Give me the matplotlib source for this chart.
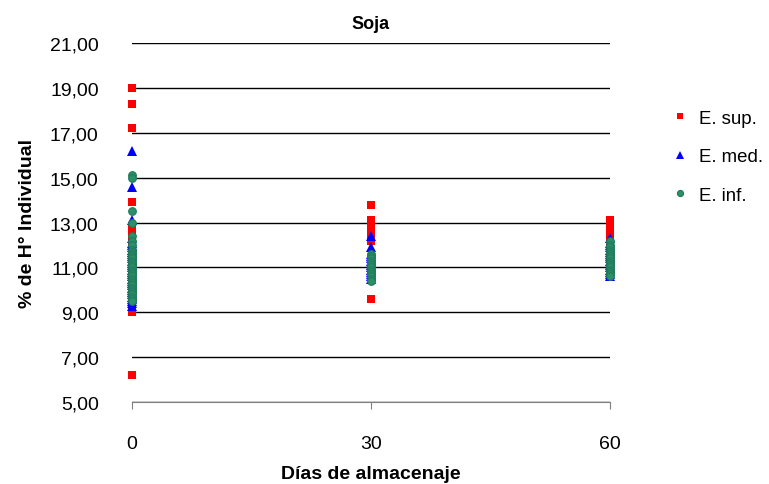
"""Soja - humedad individual"""
import numpy as np
import matplotlib.pyplot as plt

plt.rcParams['font.family'] = ['Liberation Sans', 'DejaVu Sans']

dias = [0, 30, 60]

# E. sup. (valores por día)
sup_0 = [19.0, 18.3, 17.2, 13.9, 12.7, 12.4, 12.2, 12.0, 11.9, 11.8, 11.7, 11.6, 11.5,
         11.4, 11.3, 11.2, 11.1, 11.0, 10.9, 10.8, 10.7, 10.6, 10.5, 10.4, 10.3, 10.2,
         10.1, 10.0, 9.9, 9.8, 9.7, 9.5, 9.3, 9.0, 6.2]
sup_30 = [13.8, 13.1, 13.0, 12.9, 12.8, 12.7, 12.6, 12.5, 12.4, 12.3, 12.2, 9.6]
sup_60 = [13.1, 13.0, 12.9, 12.8, 12.7, 12.6, 12.5, 12.4, 12.3, 12.2, 12.1, 12.0, 11.9]

# E. med.
med_0 = [16.2, 14.6, 13.1, 12.3, 12.1, 12.0, 11.9, 11.8, 11.7, 11.6, 11.5, 11.4, 11.3,
         11.2, 11.1, 11.0, 10.9, 10.8, 10.7, 10.6, 10.5, 10.4, 10.3, 10.2, 10.1, 10.0,
         9.9, 9.8, 9.7, 9.6, 9.5, 9.4, 9.3]
med_30 = [12.4, 11.9, 11.6, 11.5, 11.4, 11.3, 11.2, 11.1, 11.0, 10.9, 10.8, 10.7, 10.6, 10.5]
med_60 = [12.3, 12.1, 12.0, 11.9, 11.8, 11.7, 11.6, 11.5, 11.4, 11.3, 11.2, 11.1, 11.0,
          10.9, 10.8, 10.7, 10.6]

# E. inf.
inf_0 = [15.1, 15.0, 13.5, 13.0, 12.4, 12.2, 12.0, 11.8, 11.7, 11.6, 11.5, 11.4, 11.3,
         11.2, 11.1, 11.0, 10.9, 10.8, 10.7, 10.6, 10.5, 10.4, 10.3, 10.2, 10.1, 10.0,
         9.9, 9.8, 9.7, 9.6, 9.5]
inf_30 = [11.6, 11.5, 11.4, 11.3, 11.2, 11.1, 11.0, 10.9, 10.8, 10.7, 10.6, 10.5, 10.4]
inf_60 = [12.2, 12.0, 11.9, 11.8, 11.7, 11.6, 11.5, 11.4, 11.3, 11.2, 11.1, 11.0, 10.9,
          10.8, 10.7, 10.6]

y_ticks = [5, 7, 9, 11, 13, 15, 17, 19, 21]
y_labels = ['5,00', '7,00', '9,00', '11,00', '13,00', '15,00', '17,00', '19,00', '21,00']


def expand(series):
    xs, ys = [], []
    for d, vals in zip(dias, series):
        xs += [d] * len(vals)
        ys += vals
    return xs, ys


fig = plt.figure(figsize=(7.69, 4.85), dpi=100)
ax = fig.add_axes([0.1717, 0.169, 0.6215, 0.74])

x, y = expand([sup_0, sup_30, sup_60])
ax.plot(x, y, 's', color='#FF0000', ms=6, mew=0, label='E. sup.', clip_on=False, zorder=3)
x, y = expand([med_0, med_30, med_60])
ax.plot(x, y, '^', color='#0000FF', ms=7, mew=0, label='E. med.', clip_on=False, zorder=4)
x, y = expand([inf_0, inf_30, inf_60])
ax.plot(x, y, 'o', color='#2A9068', mec='#1F7A5A', ms=5.5, mew=0.8, label='E. inf.',
        clip_on=False, zorder=5)

ax.set_xlim(0, 60)
ax.set_ylim(5, 21)
ax.set_xticks(dias)
ax.set_xticklabels(['0', '30', '60'], fontsize=14)
ax.set_yticks(y_ticks)
ax.set_yticklabels(y_labels, fontsize=14)
ax.tick_params(axis='y', length=0, pad=24)
ax.tick_params(axis='x', length=5, direction='out', color='#808080', pad=19)
ax.yaxis.grid(True, color='black', lw=1)
ax.set_axisbelow(True)
for s in ['left', 'right', 'top']:
    ax.spines[s].set_visible(False)
ax.spines['bottom'].set_color('#808080')

ax.set_title('Soja', fontsize=13, fontweight='bold', pad=11)
ax.set_xlabel('Días de almacenaje', fontsize=14, fontweight='bold', labelpad=9)
ax.set_ylabel('% de H° Individual', fontsize=14, fontweight='bold', labelpad=10)

fig.legend(loc='upper left', bbox_to_anchor=(0.853, 0.806), frameon=False, fontsize=13.4,
           handletextpad=0.6, labelspacing=1.15, handlelength=0.8, markerscale=0.8)

fig.savefig('out.png', dpi=100)
